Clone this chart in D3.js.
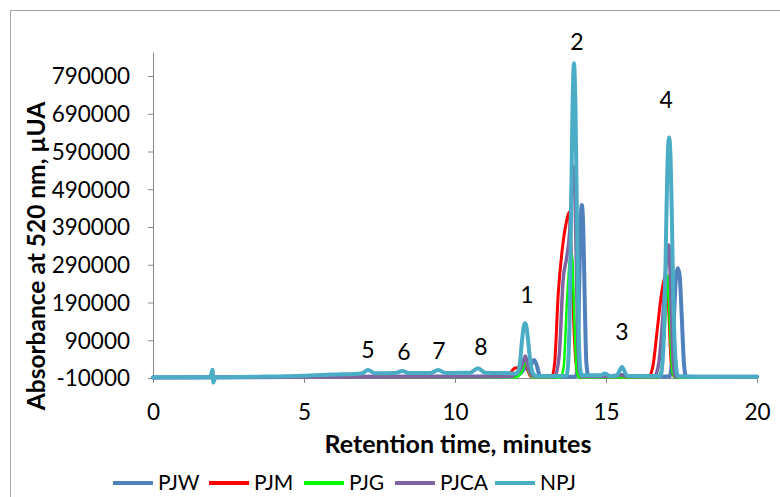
<!DOCTYPE html>
<html>
<head>
<meta charset="utf-8">
<script src="https://cdn.jsdelivr.net/npm/d3@7"></script>
<style>
  body { margin: 0; background: #fff; }
  text { font-family: Lato, "Open Sans", sans-serif; fill: #000; }
</style>
</head>
<body>
<svg width="780" height="497"></svg>
<script>
// series: [minutes, absorbance]
const PJW = [[0,-8500],[3,-8000],[6,-7000],[10,-6000],[11.5,-6000],[12.0,-4000],[12.2,5000],[12.33,18000],[12.45,10000],
  [12.55,30000],[12.62,38000],[12.7,25000],[12.8,-2000],[12.9,-7000],[13.95,-7000],[14.02,-2000],[14.06,30000],[14.1,180000],
  [14.15,380000],[14.2,448000],[14.25,380000],[14.3,180000],[14.35,30000],[14.42,-5000],[15,-6000],[15.53,-2000],[15.7,-6000],
  [17.1,-6000],[17.18,30000],[17.25,150000],[17.32,260000],[17.38,281000],[17.44,260000],[17.51,150000],[17.58,30000],
  [17.65,-6000],[20,-7000]];
const PJM = [[0,-9000],[5,-8500],[10,-7000],[11.5,-6000],[11.8,0],[11.95,15000],[12.1,18000],[12.25,30000],[12.32,42000],
  [12.4,15000],[12.5,-5000],[12.7,-8000],[13.2,-8000],[13.3,30000],[13.42,215000],[13.55,330000],[13.68,400000],[13.78,430000],
  [13.86,300000],[13.94,120000],[14.02,20000],[14.1,-6000],[16.4,-8000],[16.55,20000],[16.7,120000],[16.85,220000],
  [16.98,260000],[17.06,200000],[17.15,40000],[17.25,-6000],[20,-8000]];
const PJG = [[0,-9500],[10,-8000],[12.0,-8000],[12.2,5000],[12.35,32000],[12.45,5000],[12.6,-9000],[13.5,-9000],[13.6,20000],
  [13.7,180000],[13.8,300000],[13.87,320000],[13.95,150000],[14.03,10000],[14.12,-9000],[16.7,-9000],[16.85,20000],
  [16.95,130000],[17.05,263000],[17.12,120000],[17.2,5000],[17.3,-9000],[20,-9000]];
const PJCA = [[0,-8500],[10,-7000],[11.8,-6000],[12.0,0],[12.15,12000],[12.25,30000],[12.33,48000],[12.42,20000],[12.55,-3000],
  [12.7,-7000],[13.3,-7000],[13.45,50000],[13.58,250000],[13.7,310000],[13.8,380000],[13.88,520000],[13.93,550000],
  [13.98,450000],[14.05,150000],[14.12,10000],[14.2,-6000],[15.3,-6000],[15.5,-2000],[15.7,-6000],[16.6,-7000],[16.75,30000],
  [16.88,150000],[16.98,280000],[17.08,342000],[17.15,200000],[17.22,40000],[17.3,-6000],[20,-7000]];
const NPJ = [[0,-8000],[1.9,-8000],[1.97,12000],[2.0,-22000],[2.06,-8000],[3.5,-6500],[5,-4000],[6,-1000],[6.9,2000],
  [7.12,11000],[7.35,2500],[8.0,3000],[8.25,8500],[8.5,3000],[9.2,3500],[9.44,11000],[9.7,3500],[10.5,4000],[10.76,16000],
  [11.0,4000],[11.7,3000],[12.05,2000],[12.15,30000],[12.22,90000],[12.28,128000],[12.32,135000],[12.36,128000],[12.42,90000],
  [12.5,30000],[12.6,0],[12.7,-5000],[13.69,-4000],[13.74,20000],[13.79,130000],[13.84,400000],[13.89,700000],[13.94,824000],
  [13.99,700000],[14.04,400000],[14.09,130000],[14.14,20000],[14.19,-3000],[14.8,-3000],[14.97,2000],[15.15,-5000],
  [15.35,-4000],[15.53,19000],[15.7,-4000],[16.0,-5000],[16.8,-5000],[16.88,40000],[16.95,200000],[17.0,420000],
  [17.05,590000],[17.09,627000],[17.13,590000],[17.18,420000],[17.23,200000],[17.3,40000],[17.38,-5000],[18,-7000],[20,-7000]];

const seriesNames = ["PJW", "PJM", "PJG", "PJCA", "NPJ"];
const seriesData = [PJW, PJM, PJG, PJCA, NPJ];
const seriesColors = ["#4f81bd", "#ff0000", "#00ff00", "#8064a2", "#4bacc6"];
const seriesWidths = [4, 3, 2.5, 3.5, 4];

const xTicks = [0, 5, 10, 15, 20];
const yTicks = [-10000, 90000, 190000, 290000, 390000, 490000, 590000, 690000, 790000];

const peakLabels = ["1", "2", "3", "4", "5", "6", "7", "8"];
const peakLabelTime = [12.38, 14.04, 15.53, 16.99, 7.12, 8.31, 9.47, 10.86];
const peakLabelValue = [210000, 880000, 112000, 726000, 64000, 59000, 61500, 72000];

const svg = d3.select("svg");
const margin = {left: 153, right: 23, top: 52, bottom: 119};
const width = 780 - margin.left - margin.right;
const height = 497 - margin.top - margin.bottom;

// chart border (right and bottom edges fall outside the picture)
svg.append("rect")
    .attr("x", 10.5).attr("y", 10.5)
    .attr("width", 800).attr("height", 500)
    .attr("fill", "none")
    .attr("stroke", "#a6a6a6");

const g = svg.append("g").attr("transform", "translate(" + margin.left + "," + margin.top + ")");

const x = d3.scaleLinear().domain([0, 20]).range([0, width]);
const y = d3.scaleLinear().domain([-10000, 853600]).range([height, 0]);

const xAxis = g.append("g")
    .attr("transform", "translate(0," + height + ")")
    .call(d3.axisBottom(x).tickValues(xTicks).tickSize(5).tickPadding(8).tickSizeOuter(0));
const yAxis = g.append("g")
    .call(d3.axisLeft(y).tickValues(yTicks).tickSize(5).tickPadding(18).tickSizeOuter(0)
      .tickFormat(function(d) { return String(d); }));

[xAxis, yAxis].forEach(function(a) {
  a.selectAll("path, line").attr("stroke", "#868686");
  a.selectAll("text").style("font-size", "22.5px").attr("fill", "#000");
});
xAxis.selectAll("text").attr("dy", "1.28em");
yAxis.selectAll("text").attr("dy", "0.35em");

const line = d3.line()
    .x(function(d) { return x(d[0]); })
    .y(function(d) { return y(d[1]); })
    .curve(d3.curveMonotoneX);

seriesData.forEach(function(data, i) {
  g.append("path")
      .datum(data)
      .attr("fill", "none")
      .attr("stroke", seriesColors[i])
      .attr("stroke-width", seriesWidths[i])
      .attr("stroke-linejoin", "round")
      .attr("stroke-linecap", "round")
      .attr("d", line);
});

g.selectAll(".peak")
  .data(peakLabels)
  .enter().append("text")
    .attr("class", "peak")
    .attr("x", function(d, i) { return x(peakLabelTime[i]); })
    .attr("y", function(d, i) { return y(peakLabelValue[i]); })
    .attr("dy", "0.36em")
    .attr("text-anchor", "middle")
    .style("font-size", "23px")
    .text(function(d) { return d; });

// axis titles
svg.append("text")
    .attr("x", 458).attr("y", 453)
    .attr("text-anchor", "middle")
    .style("font-size", "25px").style("font-weight", "bold")
    .text("Retention time, minutes");
svg.append("text")
    .attr("transform", "translate(45,256) rotate(-90)")
    .attr("text-anchor", "middle")
    .style("font-size", "24.5px").style("font-weight", "bold")
    .text("Absorbance at 520 nm, µUA");

// legend
const legendX = [113, 209, 304, 395, 495];
const legend = svg.append("g");
seriesNames.forEach(function(name, i) {
  legend.append("line")
      .attr("x1", legendX[i]).attr("x2", legendX[i] + 40)
      .attr("y1", 483).attr("y2", 483)
      .attr("stroke", seriesColors[i])
      .attr("stroke-width", 4);
  legend.append("text")
      .attr("x", legendX[i] + 45).attr("y", 483)
      .attr("dy", "0.35em")
      .style("font-size", "21px")
      .text(name);
});
</script>
</body>
</html>
